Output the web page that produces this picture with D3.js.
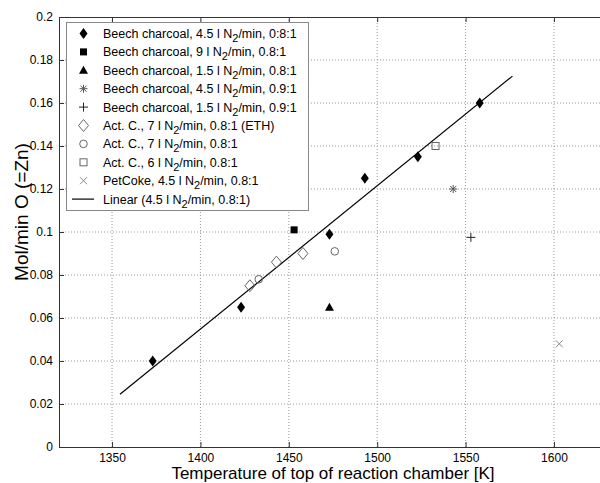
<!DOCTYPE html>
<html>
<head>
<meta charset="utf-8">
<script src="https://cdn.jsdelivr.net/npm/d3@7"></script>
<style>
  body { margin: 0; background: #fff; }
  svg { display: block; font-family: "Liberation Sans", Arial, sans-serif; }
</style>
</head>
<body>
<div id="chart"></div>
<script>
// values
const beech45T = [1373, 1423, 1473, 1493, 1523, 1558]
const beech45V = [0.040, 0.065, 0.099, 0.125, 0.135, 0.160]
const beech9T = [1453]
const beech9V = [0.101]
const beech15T = [1473]
const beech15V = [0.065]
const beech45r09T = [1543]
const beech45r09V = [0.120]
const beech15r09T = [1553]
const beech15r09V = [0.0975]
const actEthT = [1428, 1443, 1458]
const actEthV = [0.075, 0.086, 0.090]
const act7T = [1433, 1476]
const act7V = [0.078, 0.091]
const act6T = [1533]
const act6V = [0.140]
const petT = [1603]
const petV = [0.048]
const linearT = [1354.5, 1576.5]
const linearV = [0.0245, 0.1725]

const xTicks = [1350, 1400, 1450, 1500, 1550, 1600]
const yTicks = [0, 0.02, 0.04, 0.06, 0.08, 0.1, 0.12, 0.14, 0.16, 0.18, 0.2]

const legendLabels = [
  'Beech charcoal, 4.5 l N2/min, 0:8:1',
  'Beech charcoal, 9 l N2/min, 0.8:1',
  'Beech charcoal, 1.5 l N2/min, 0.8:1',
  'Beech charcoal, 4.5 l N2/min, 0.9:1',
  'Beech charcoal, 1.5 l N2/min, 0.9:1',
  'Act. C., 7 l N2/min, 0.8:1 (ETH)',
  'Act. C., 7 l N2/min, 0.8:1',
  'Act. C., 6 l N2/min, 0.8:1',
  'PetCoke, 4.5 l N2/min, 0.8:1',
  'Linear (4.5 l N2/min, 0.8:1)'
]

const w = 600, h = 483
const pLeft = 59, pRight = 607, pTop = 17, pBottom = 447

const xScale = d3.scaleLinear().domain([1320, 1630]).range([pLeft, pRight])
const yScale = d3.scaleLinear().domain([0, 0.2]).range([pBottom, pTop])

const svg = d3.select('#chart').append('svg')
              .attr('width', w)
              .attr('height', h)

// marker shapes
const shapes = {
  diamondFill: (s) => s.append('path').attr('d', 'M0,-5.5L4,0L0,5.5L-4,0Z').attr('fill', '#000'),
  squareFill: (s) => s.append('rect').attr('x', -3.5).attr('y', -3.5).attr('width', 7).attr('height', 7).attr('fill', '#000'),
  triangleFill: (s) => s.append('path').attr('d', 'M0,-4.5L4.5,3.5L-4.5,3.5Z').attr('fill', '#000'),
  star: (s) => s.append('path').attr('d', 'M-4,0H4M0,-4V4M-3,-3L3,3M-3,3L3,-3').attr('stroke', '#555').attr('fill', 'none'),
  plus: (s) => s.append('path').attr('d', 'M-4.5,0H4.5M0,-4.5V4.5').attr('stroke', '#222').attr('fill', 'none'),
  diamondOpen: (s) => s.append('path').attr('d', 'M0,-6L5,0L0,6L-5,0Z').attr('stroke', '#666').attr('fill', 'none'),
  circleOpen: (s) => s.append('circle').attr('r', 3.8).attr('stroke', '#666').attr('fill', 'none'),
  squareOpen: (s) => s.append('rect').attr('x', -3.5).attr('y', -3.5).attr('width', 7).attr('height', 7).attr('stroke', '#666').attr('fill', 'none'),
  cross: (s) => s.append('path').attr('d', 'M-3.5,-3.5L3.5,3.5M-3.5,3.5L3.5,-3.5').attr('stroke', '#888').attr('fill', 'none')
}

const series = [
  { t: beech45T, v: beech45V, shape: 'diamondFill' },
  { t: beech9T, v: beech9V, shape: 'squareFill' },
  { t: beech15T, v: beech15V, shape: 'triangleFill' },
  { t: beech45r09T, v: beech45r09V, shape: 'star' },
  { t: beech15r09T, v: beech15r09V, shape: 'plus' },
  { t: actEthT, v: actEthV, shape: 'diamondOpen' },
  { t: act7T, v: act7V, shape: 'circleOpen' },
  { t: act6T, v: act6V, shape: 'squareOpen' },
  { t: petT, v: petV, shape: 'cross' }
]

// grid
const grid = svg.append('g').attr('stroke', '#999').attr('stroke-dasharray', '1,2')
grid.selectAll('.gx').data(xTicks).enter().append('line')
    .attr('x1', (d) => xScale(d)).attr('x2', (d) => xScale(d))
    .attr('y1', pTop).attr('y2', pBottom)
grid.selectAll('.gy').data(yTicks.slice(1, -1)).enter().append('line')
    .attr('x1', pLeft).attr('x2', pRight)
    .attr('y1', (d) => yScale(d)).attr('y2', (d) => yScale(d))

// axes, ticks pointing inward
const xAxis = svg.append('g')
                 .attr('transform', 'translate(0,' + pBottom + ')')
                 .call(d3.axisBottom(xScale).tickValues(xTicks).tickSizeInner(-5).tickSizeOuter(0).tickPadding(6).tickFormat(d3.format('d')))
const xTop = svg.append('g')
                .attr('transform', 'translate(0,' + pTop + ')')
                .call(d3.axisTop(xScale).tickValues(xTicks).tickSizeInner(-5).tickSizeOuter(0).tickFormat(''))
const yAxis = svg.append('g')
                 .attr('transform', 'translate(' + pLeft + ',0)')
                 .call(d3.axisLeft(yScale).tickValues(yTicks).tickSizeInner(-5).tickSizeOuter(0).tickPadding(6).tickFormat((d) => d3.format('~g')(d)))

svg.selectAll('.domain').attr('stroke', '#333')
svg.selectAll('.tick line').attr('stroke', '#333')
svg.selectAll('.tick text').attr('font-size', 12).attr('fill', '#000').attr('font-family', '"Liberation Sans", Arial, sans-serif')

// linear fit line
svg.append('path')
   .datum(d3.zip(linearT, linearV))
   .attr('d', d3.line().x((d) => xScale(d[0])).y((d) => yScale(d[1])))
   .attr('stroke', '#000')
   .attr('stroke-width', 1.2)
   .attr('fill', 'none')

// data points
series.forEach(function(s) {
  const pts = svg.append('g').selectAll('g')
                 .data(d3.zip(s.t, s.v))
                 .enter()
                 .append('g')
                 .attr('transform', (d) => 'translate(' + xScale(d[0]) + ',' + yScale(d[1]) + ')')
  shapes[s.shape](pts)
})

// axis titles
svg.append('text')
   .attr('x', (pLeft + pRight) / 2)
   .attr('y', 479)
   .attr('text-anchor', 'middle')
   .attr('font-size', 17)
   .text('Temperature of top of reaction chamber [K]')

svg.append('text')
   .attr('transform', 'rotate(-90)')
   .attr('x', -212)
   .attr('y', 28)
   .attr('text-anchor', 'middle')
   .attr('font-size', 19)
   .text('Mol/min O (=Zn)')

// legend
const legend = svg.append('g')
legend.append('rect')
      .attr('x', 66.5).attr('y', 22.5)
      .attr('width', 242).attr('height', 188)
      .attr('fill', '#fff')
      .attr('stroke', '#888')

const rowY = (i) => 33.5 + i * 18.4

legendLabels.forEach(function(label, i) {
  const y = rowY(i)
  if (i < series.length) {
    const m = legend.append('g').attr('transform', 'translate(83.5,' + y + ')')
    shapes[series[i].shape](m)
  } else {
    legend.append('line')
          .attr('x1', 72).attr('x2', 94)
          .attr('y1', y).attr('y2', y)
          .attr('stroke', '#000').attr('stroke-width', 1.2)
  }
  const parts = label.split('N2')
  const t = legend.append('text')
                  .attr('x', 103)
                  .attr('y', y + 4.5)
                  .attr('font-size', 12.5)
  t.append('tspan').text(parts[0] + 'N')
  t.append('tspan').attr('dy', 4).attr('font-size', 11).text('2')
  t.append('tspan').attr('dy', -4).text(parts[1])
})
</script>
</body>
</html>
